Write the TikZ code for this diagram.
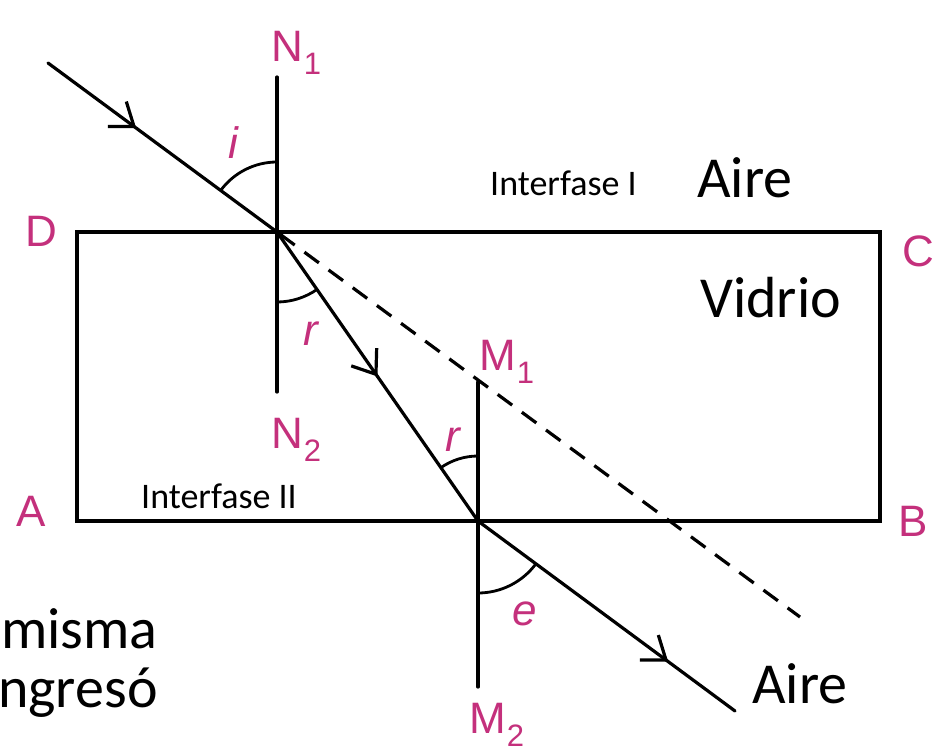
\documentclass[tikz,border=0pt]{standalone}
\usepackage{fontspec}
\setmainfont{Carlito}
\newfontfamily\labfont{Liberation Sans}
\newfontfamily\carlfont{Carlito}
\usetikzlibrary{arrows.meta,decorations.markings}
\definecolor{magc}{RGB}{196,48,124}
\newcommand\subnum[1]{\kern1bp\raisebox{-13bp}{\fontsize{31bp}{31bp}\selectfont #1}}
\begin{document}
\begin{tikzpicture}[x=1bp,y=-1bp,
  ray/.style={line width=3.2bp, line cap=round},
  arcline/.style={line width=2.8bp},
  barb/.style={postaction={decorate}, decoration={markings, mark=at position #1 with {\arrow{Straight Barb[length=21bp,width=31bp,line width=3.2bp]}}}},
  maglab/.style={text=magc, inner sep=0, anchor=base west, font=\labfont\fontsize{44bp}{44bp}\selectfont},
  anglab/.style={text=magc, inner sep=0, font=\labfont\itshape\fontsize{44bp}{44bp}\selectfont},
  bigtxt/.style={inner sep=0, anchor=base west, font=\carlfont\fontsize{58bp}{58bp}\selectfont},
  smalltxt/.style={inner sep=0, anchor=base west, font=\carlfont\fontsize{36bp}{36bp}\selectfont}]
\fill[white] (0,0) rectangle (944,752);
\useasboundingbox (0,0) rectangle (944,752);
% points
\coordinate (S) at (48,63);
\coordinate (P) at (277,232);
\coordinate (Q) at (478,521);
\coordinate (E) at (735,711);
\coordinate (X) at (800,617);
\coordinate (N1e) at (277,77);
\coordinate (N2e) at (277,392);
\coordinate (M1e) at (478,382);
\coordinate (M2e) at (478,687);
\coordinate (Dc) at (77,232);
\coordinate (Cc) at (880,232);
\coordinate (Bc) at (880,521);
\coordinate (Ac) at (77,521);
% glass block
\draw[ray, line cap=butt] (Dc) -- (Cc) -- (Bc) -- (Ac) -- cycle;
% normals
\draw[ray] (N1e) -- (N2e);
\draw[ray] (M1e) -- (M2e);
% rays
\draw[ray, barb=0.385] (S) -- (P);
\draw[ray, barb=0.5] (P) -- (Q);
\draw[ray, barb=0.74] (Q) -- (E);
\draw[ray, line cap=butt, dash pattern=on 18bp off 12bp, dash phase=-4bp] (P) -- (X);
% angle arcs
\draw[arcline] (P) ++(-90:70) arc[start angle=-90, end angle=-143.6, radius=70];
\draw[arcline] (P) ++(90:70) arc[start angle=90, end angle=55.2, radius=70];
\draw[arcline] (Q) ++(-90:65) arc[start angle=-90, end angle=-124.8, radius=65];
\draw[arcline] (Q) ++(90:72) arc[start angle=90, end angle=36.5, radius=72];
% magenta labels
\node[maglab] (lN1) at (271,62) {N\subnum{1}};
\node[maglab] (lN2) at (271,448) {N\subnum{2}};
\node[maglab] (lM1) at (479,370) {M\subnum{1}};
\node[maglab] (lM2) at (469,733) {M\subnum{2}};
\node[maglab] (lD) at (25,246) {D};
\node[maglab] (lC) at (902,266) {C};
\node[maglab] (lA) at (16,526) {A};
\node[maglab] (lB) at (898,536) {B};
\node[anglab] (li) at (233,143) {i};
\node[anglab] (lr1) at (311,334) {r};
\node[anglab] (lr2) at (453,440) {r};
\node[anglab] (le) at (525,614) {e};
% black texts
\node[smalltxt] (t1) at (490,195) {Interfase I};
\node[bigtxt] (t2) at (697,197) {Aire};
\node[bigtxt] (t3) at (700,317) {Vidrio};
\node[smalltxt] (t4) at (141,508) {Interfase II};
\node[bigtxt] (t5) at (1,648) {misma};
\node[bigtxt] (t6) at (-2,707) {ngresó};
\node[bigtxt] (t7) at (752,703) {Aire};
\end{tikzpicture}
\end{document}
